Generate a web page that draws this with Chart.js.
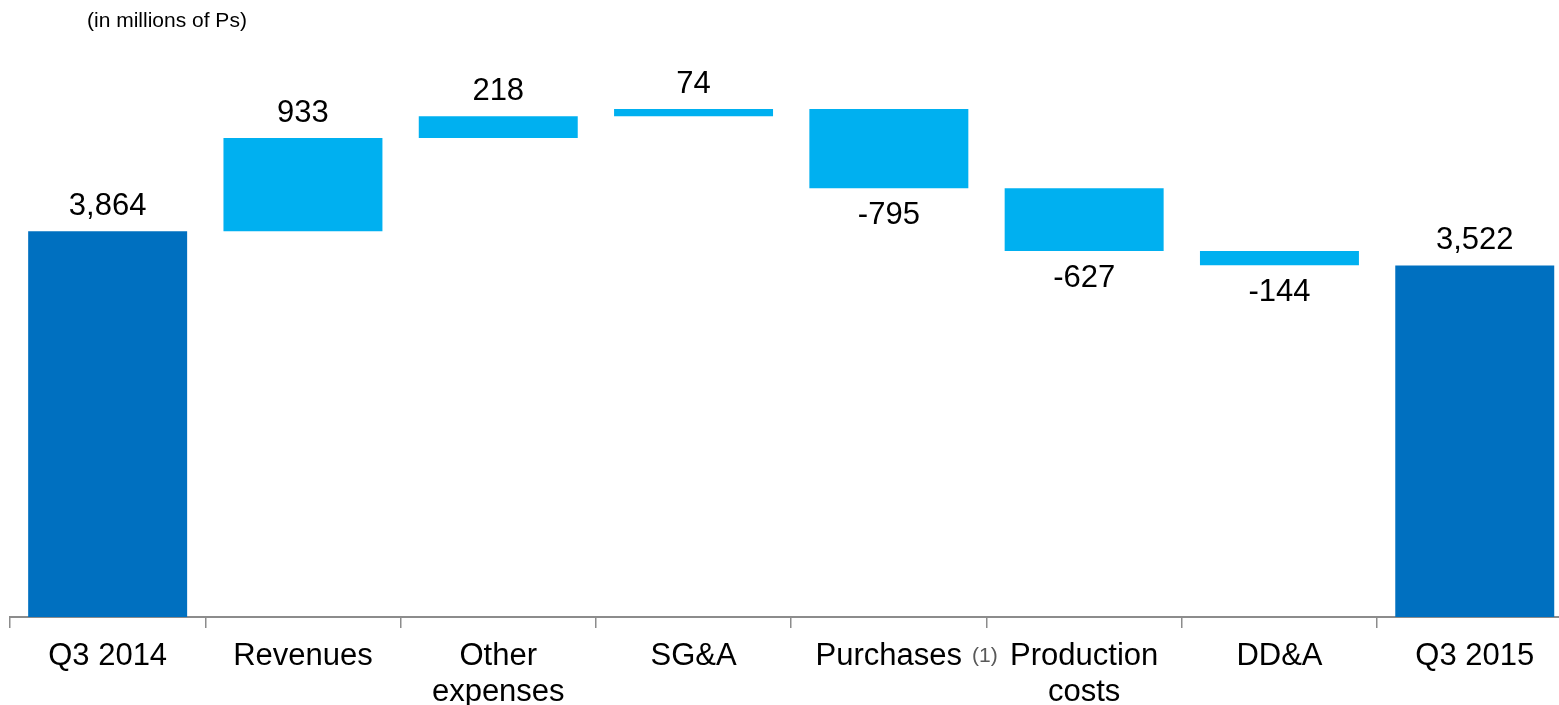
<!DOCTYPE html>
<html>
<head>
<meta charset="utf-8">
<title>Q3 2014 to Q3 2015 bridge</title>
<script src="https://cdn.jsdelivr.net/npm/chart.js@4/dist/chart.umd.min.js"></script>
<style>
  html, body { margin: 0; padding: 0; background: #fff; overflow: hidden; }
  #wrap { position: relative; width: 1575px; height: 705px; }
</style>
</head>
<body>
<div id="wrap"><canvas id="bridgeChart"></canvas></div>
<script>
/* global Chart */
// Bridge data (millions of Ps)
const categories = ['Q3 2014', 'Revenues', ['Other', 'expenses'], 'SG&A', 'Purchases', ['Production', 'costs'], 'DD&A', 'Q3 2015'];
const changes = [3864, 933, 218, 74, -795, -627, -144, 3522];
const isTotal = [true, false, false, false, false, false, false, true];
const yTicks = [0, 6000];
const unitNote = '(in millions of Ps)';
const footnoteMark = '(1)';

const TOTAL_COLOR = '#0070C0';
const STEP_COLOR = '#00B0F0';
const FONT = '"Liberation Sans", Arial, sans-serif';

// floating [start, end] pairs for the waterfall
let running = 0;
const floating = changes.map((v, i) => {
  if (isTotal[i]) {
    running = v;
    return [0, v];
  }
  const start = running;
  running += v;
  return [start, running];
});

const valueLabels = {
  id: 'valueLabels',
  afterDatasetsDraw(chart) {
    const ctx = chart.ctx;
    const meta = chart.getDatasetMeta(0);
    ctx.save();
    ctx.font = `31px ${FONT}`;
    ctx.fillStyle = '#000';
    ctx.textAlign = 'center';
    ctx.textBaseline = 'alphabetic';
    meta.data.forEach((bar, i) => {
      const top = Math.min(bar.y, bar.base);
      const bottom = Math.max(bar.y, bar.base);
      const txt = changes[i].toLocaleString('en-US');
      if (changes[i] >= 0) ctx.fillText(txt, bar.x, top - 16);
      else ctx.fillText(txt, bar.x, bottom + 36);
    });
    ctx.restore();
  }
};

const extraText = {
  id: 'extraText',
  afterDraw(chart) {
    const ctx = chart.ctx;
    ctx.save();
    ctx.fillStyle = '#000';
    ctx.textAlign = 'left';
    ctx.textBaseline = 'alphabetic';
    ctx.font = `21px ${FONT}`;
    ctx.fillText(unitNote, 87, 27);
    // footnote marker next to "Purchases"
    const xs = chart.scales.x;
    const cx = xs.getPixelForValue(4);
    ctx.font = `31px ${FONT}`;
    const w = ctx.measureText('Purchases').width;
    ctx.font = `21px ${FONT}`;
    ctx.fillStyle = '#595959';
    ctx.fillText(footnoteMark, cx + w / 2 + 10, 662);
    ctx.restore();
  }
};

new Chart(document.getElementById('bridgeChart'), {
  type: 'bar',
  data: {
    labels: categories,
    datasets: [{
      data: floating,
      backgroundColor: isTotal.map(t => (t ? TOTAL_COLOR : STEP_COLOR)),
      borderWidth: 0,
      barPercentage: 0.814,
      categoryPercentage: 1
    }]
  },
  options: {
    responsive: true,
    maintainAspectRatio: false,
    animation: false,
    layout: { padding: { left: 10, right: 2.6, top: 18, bottom: 0 } },
    plugins: { legend: { display: false }, tooltip: { enabled: false }, title: { display: false } },
    scales: {
      x: {
        offset: true,
        grid: { offset: true, drawOnChartArea: false, drawTicks: true, tickLength: 11, color: '#8c8c8c', lineWidth: 1.5 },
        border: { display: true, color: '#8c8c8c', width: 2 },
        ticks: {
          color: '#000',
          padding: 11,
          maxRotation: 0,
          autoSkip: false,
          font: { family: FONT, size: 31, lineHeight: 1.15 }
        },
        afterFit(scale) { scale.height = 88; }
      },
      y: {
        display: false,
        min: yTicks[0],
        max: yTicks[yTicks.length - 1]
      }
    }
  },
  plugins: [valueLabels, extraText]
});
</script>
</body>
</html>
